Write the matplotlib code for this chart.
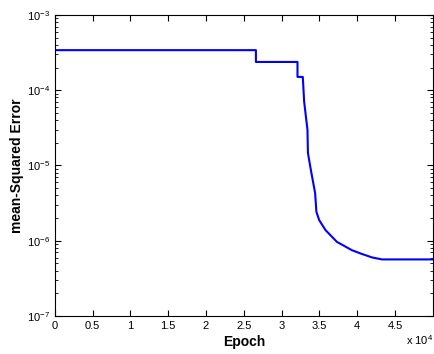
import numpy as np
import matplotlib.pyplot as plt
from matplotlib.ticker import LogLocator, NullFormatter

plt.rcParams['font.family'] = ['Liberation Sans', 'DejaVu Sans']
plt.rcParams['mathtext.fontset'] = 'custom'
plt.rcParams['mathtext.rm'] = 'Liberation Sans'
plt.rcParams['mathtext.it'] = 'Liberation Sans'

# Training curve (epochs, MSE)
epochs = [0, 26600, 26600, 32100, 32100, 32800, 32980, 33420, 33480, 33870,
          34430, 34600, 34960, 35800, 37300, 39300, 40600, 42000, 43300, 50000]
mse = [3.4e-4, 3.4e-4, 2.37e-4, 2.37e-4, 1.5e-4, 1.5e-4, 7.05e-5, 2.97e-5, 1.47e-5, 8.7e-6,
       4.3e-6, 2.43e-6, 1.89e-6, 1.39e-6, 9.7e-7, 7.5e-7, 6.7e-7, 6.0e-7, 5.66e-7, 5.66e-7]

xticks = [0, 5000, 10000, 15000, 20000, 25000, 30000, 35000, 40000, 45000]
xticklabels = ['0', '0.5', '1', '1.5', '2', '2.5', '3', '3.5', '4', '4.5']

fig = plt.figure(figsize=(4.35, 3.54), dpi=100)
ax = fig.add_axes([0.126, 0.107, 0.869, 0.851])
ax.semilogy(epochs, mse, color=(0, 0, 1), linewidth=1.5)

ax.set_xlim(0, 50000)
ax.set_ylim(1e-7, 1e-3)
ax.set_xticks(xticks)
ax.set_xticklabels(xticklabels)
ax.yaxis.set_minor_locator(LogLocator(base=10, subs=np.arange(2, 10)))
ax.yaxis.set_minor_formatter(NullFormatter())
ax.tick_params(which='both', direction='in', top=True, right=True, labelsize=8, colors='black')
ax.tick_params(which='major', length=4)
ax.tick_params(which='minor', length=2)
for s in ax.spines.values():
    s.set_linewidth(0.8)

ax.set_xlabel('Epoch', fontsize=10, fontweight='bold', labelpad=3)
ax.set_ylabel('mean-Squared Error', fontsize=10, fontweight='bold', labelpad=2)
fig.text(0.995, 0.02, r'x 10$^4$', ha='right', va='bottom', fontsize=8)

fig.savefig('out.png', dpi=100)
